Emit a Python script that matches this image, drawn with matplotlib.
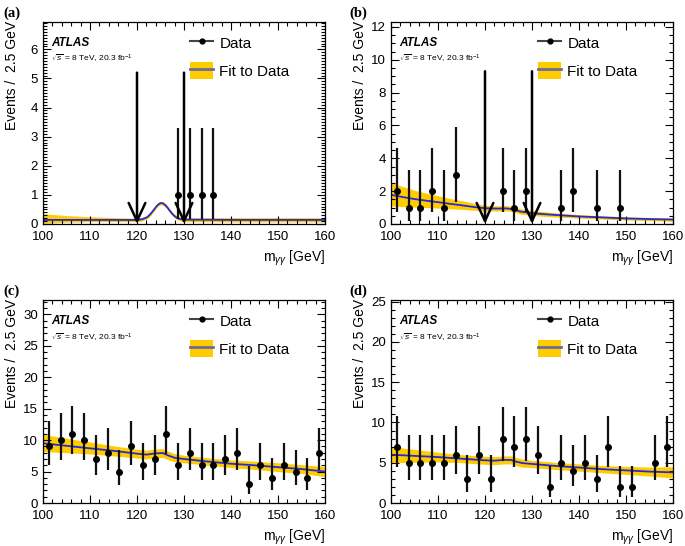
"""ATLAS m_yy fit panels (a)-(d), recreated with matplotlib."""

import matplotlib
matplotlib.use('Agg')
import matplotlib.pyplot as plt
from matplotlib.lines import Line2D
from matplotlib.patches import Patch
from matplotlib.ticker import MultipleLocator

plt.rcParams['font.family'] = ['Liberation Sans', 'DejaVu Sans']
plt.rcParams['mathtext.fontset'] = 'custom'
plt.rcParams['mathtext.rm'] = 'Liberation Sans'
plt.rcParams['mathtext.it'] = 'Liberation Sans:italic'

# 68% Poisson intervals for observed counts 0..11 (lower, upper)
poisson_lo = [0.0, 0.17, 0.71, 1.37, 2.09, 2.84, 3.62, 4.42, 5.23, 6.06, 6.89, 7.73]
poisson_hi = [1.84, 3.30, 4.64, 5.92, 7.16, 8.38, 9.58, 10.77, 11.95, 13.11, 14.27, 15.42]

# panel (a)
a_x = [128.75, 131.25, 133.75, 136.25]
a_n = [1, 1, 1, 1]
a_fit_x = [100, 105, 110, 115, 120, 121, 122, 122.5, 123, 123.5, 124, 124.5, 125,
           125.5, 126, 126.5, 127, 127.5, 128, 128.5, 129, 130, 140, 150, 160]
a_fit = [0.14, 0.14, 0.14, 0.14, 0.14, 0.16, 0.22, 0.28, 0.37, 0.47, 0.58, 0.67, 0.72,
         0.71, 0.65, 0.56, 0.45, 0.35, 0.27, 0.21, 0.18, 0.15, 0.14, 0.14, 0.14]
a_lo = [0.03, 0.06, 0.08, 0.08, 0.08, 0.10, 0.16, 0.22, 0.31, 0.41, 0.52, 0.61, 0.66,
        0.65, 0.59, 0.50, 0.39, 0.29, 0.21, 0.15, 0.12, 0.08, 0.07, 0.07, 0.07]
a_hi = [0.35, 0.29, 0.25, 0.22, 0.20, 0.22, 0.28, 0.34, 0.43, 0.53, 0.64, 0.73, 0.78,
        0.77, 0.71, 0.62, 0.51, 0.41, 0.33, 0.27, 0.24, 0.22, 0.22, 0.22, 0.22]
a_arrow_x = [120, 130]
a_arrow_top = 5.2

# panel (b)
b_x = [101.25, 103.75, 106.25, 108.75, 111.25, 113.75, 123.75, 126.25, 128.75,
       136.25, 138.75, 143.75, 148.75]
b_n = [2, 1, 1, 2, 1, 3, 2, 1, 2, 1, 2, 1, 1]
b_fit_x = [100, 102.5, 105, 107.5, 110, 112.5, 115, 117.5, 120, 122.5, 124.5, 126,
           127.5, 130, 132.5, 135, 140, 145, 150, 155, 160]
b_fit = [1.78, 1.64, 1.52, 1.42, 1.33, 1.23, 1.14, 1.04, 0.96, 0.94, 0.95, 0.90,
         0.76, 0.66, 0.60, 0.55, 0.46, 0.40, 0.34, 0.30, 0.27]
b_lo = [1.10, 1.06, 1.03, 1.00, 0.97, 0.93, 0.89, 0.84, 0.80, 0.79, 0.80, 0.75,
        0.60, 0.52, 0.47, 0.43, 0.36, 0.30, 0.24, 0.20, 0.17]
b_hi = [2.52, 2.28, 2.05, 1.88, 1.72, 1.56, 1.42, 1.27, 1.14, 1.10, 1.12, 1.06,
        0.93, 0.82, 0.75, 0.68, 0.57, 0.50, 0.44, 0.40, 0.37]
b_arrow_x = [120, 130]
b_arrow_top = 9.3

# panel (c)
c_x = [101.25, 103.75, 106.25, 108.75, 111.25, 113.75, 116.25, 118.75, 121.25,
       123.75, 126.25, 128.75, 131.25, 133.75, 136.25, 138.75, 141.25, 143.75,
       146.25, 148.75, 151.25, 153.75, 156.25, 158.75]
c_n = [9, 10, 11, 10, 7, 8, 5, 9, 6, 7, 11, 6, 8, 6, 6, 7, 8, 3, 6, 4, 6, 5, 4, 8]
c_fit_x = [100, 105, 110, 115, 120, 122, 124, 125.5, 126.5, 128, 130, 135, 140,
           145, 150, 155, 160]
c_fit = [9.5, 9.1, 8.7, 8.3, 7.85, 7.7, 7.9, 7.95, 7.6, 7.2, 7.0, 6.6, 6.25,
         6.0, 5.7, 5.4, 5.0]
c_lo = [8.2, 8.0, 7.8, 7.5, 7.15, 7.0, 7.2, 7.25, 6.9, 6.55, 6.4, 6.0, 5.65,
        5.35, 5.0, 4.7, 4.2]
c_hi = [10.9, 10.3, 9.7, 9.1, 8.55, 8.4, 8.6, 8.65, 8.3, 7.85, 7.6, 7.2, 6.85,
        6.65, 6.4, 6.1, 5.8]

# panel (d)
d_x = [101.25, 103.75, 106.25, 108.75, 111.25, 113.75, 116.25, 118.75, 121.25,
       123.75, 126.25, 128.75, 131.25, 133.75, 136.25, 138.75, 141.25, 143.75,
       146.25, 148.75, 151.25, 156.25, 158.75]
d_n = [7, 5, 5, 5, 5, 6, 3, 6, 3, 8, 7, 8, 6, 2, 5, 4, 5, 3, 7, 2, 2, 5, 7]
d_fit_x = [100, 105, 110, 115, 120, 122, 124, 125.5, 126.5, 128, 130, 135, 140,
           145, 150, 155, 160]
d_fit = [6.0, 5.85, 5.7, 5.5, 5.3, 5.25, 5.35, 5.35, 5.15, 4.95, 4.85, 4.6, 4.4,
         4.2, 4.05, 3.9, 3.8]
d_lo = [5.0, 5.05, 5.1, 5.0, 4.8, 4.75, 4.85, 4.85, 4.65, 4.45, 4.4, 4.15, 3.95,
        3.75, 3.55, 3.35, 3.1]
d_hi = [7.0, 6.65, 6.3, 6.0, 5.8, 5.75, 5.85, 5.85, 5.65, 5.45, 5.3, 5.05, 4.85,
        4.65, 4.55, 4.45, 4.5]

panels = [
    ('(a)', a_x, a_n, a_fit_x, a_fit, a_lo, a_hi, 6.94, 1, 0.1, a_arrow_x, a_arrow_top),
    ('(b)', b_x, b_n, b_fit_x, b_fit, b_lo, b_hi, 12.3, 2, 0.5, b_arrow_x, b_arrow_top),
    ('(c)', c_x, c_n, c_fit_x, c_fit, c_lo, c_hi, 32.3, 5, 1, [], None),
    ('(d)', d_x, d_n, d_fit_x, d_fit, d_lo, d_hi, 25.2, 5, 1, [], None),
]

band_color = '#ffcc00'
line_color = '#2828d8'

fig = plt.figure(figsize=(6.85, 5.46), dpi=100)
W, H = 685.0, 546.0
axes_px = [(43, 22, 282, 202), (391, 22, 282, 202), (43, 300, 282, 203), (391, 300, 282, 203)]
label_px = [(3, 13), (349, 13), (3, 291), (349, 291)]

for (name, x, n, fx, fy, flo, fhi, ymax, ymaj, ymin, arrows, arrow_top), box, lab in zip(panels, axes_px, label_px):
    left, top, w, h = box
    ax = fig.add_axes([left / W, 1 - (top + h) / H, w / W, h / H])

    ax.fill_between(fx, flo, fhi, color=band_color, lw=0)
    ax.plot(fx, fy, color=line_color, lw=1.3)

    ylo = [k - poisson_lo[k] for k in n]
    yhi = [poisson_hi[k] - k for k in n]
    ax.errorbar(x, n, yerr=[ylo, yhi], fmt='o', color='black', ecolor='#111111',
                ms=4, elinewidth=1.6, capsize=0)

    for xa in arrows:
        ax.annotate('', xy=(xa, 0), xytext=(xa, arrow_top),
                    arrowprops=dict(arrowstyle='->,head_length=1.3,head_width=0.6',
                                    lw=1.8, color='black', shrinkA=0, shrinkB=0))

    ax.set_xlim(100, 160)
    ax.set_ylim(0, ymax)
    ax.xaxis.set_major_locator(MultipleLocator(10))
    ax.xaxis.set_minor_locator(MultipleLocator(2))
    ax.yaxis.set_major_locator(MultipleLocator(ymaj))
    ax.yaxis.set_minor_locator(MultipleLocator(ymin))
    ax.tick_params(which='both', direction='in', top=True, right=True, labelsize=9.5)
    ax.tick_params(which='major', length=6, width=0.8)
    ax.tick_params(which='minor', length=3, width=0.8)
    ax.tick_params(axis='x', which='major', pad=5)
    for s in ax.spines.values():
        s.set_linewidth(0.9)

    ax.set_ylabel('Events /  2.5 GeV', fontsize=10, loc='top')
    ax.yaxis.set_label_coords(-0.085, 1.005)
    ax.set_xlabel(r'm$_{\gamma\gamma}$ [GeV]', fontsize=10, loc='right')

    ax.text(0.03, 0.895, 'ATLAS', transform=ax.transAxes, fontsize=8.5,
            fontweight='bold', fontstyle='italic', va='center')
    ax.text(0.03, 0.815, r'$\sqrt{s}$ = 8 TeV, 20.3 fb$^{-1}$', transform=ax.transAxes,
            fontsize=6, va='center')

    handles = [Line2D([], [], color='#444444', lw=1.5, marker='o', ms=3.5,
                      markerfacecolor='black', markeredgecolor='black'),
               (Patch(facecolor=band_color, edgecolor='none'),
                Line2D([], [], color='#6d6a9c', lw=2))]
    ax.legend(handles, ['Data', 'Fit to Data'], loc='upper left',
              bbox_to_anchor=(0.49, 0.985), frameon=False, fontsize=11,
              handlelength=1.5, handleheight=1.3, labelspacing=0.75,
              handletextpad=0.4, borderaxespad=0.2)

    fig.text(lab[0] / W, 1 - lab[1] / H, name, fontsize=10.5, fontweight='bold',
             family='Liberation Serif', va='center')

fig.savefig('out.png', dpi=100)
